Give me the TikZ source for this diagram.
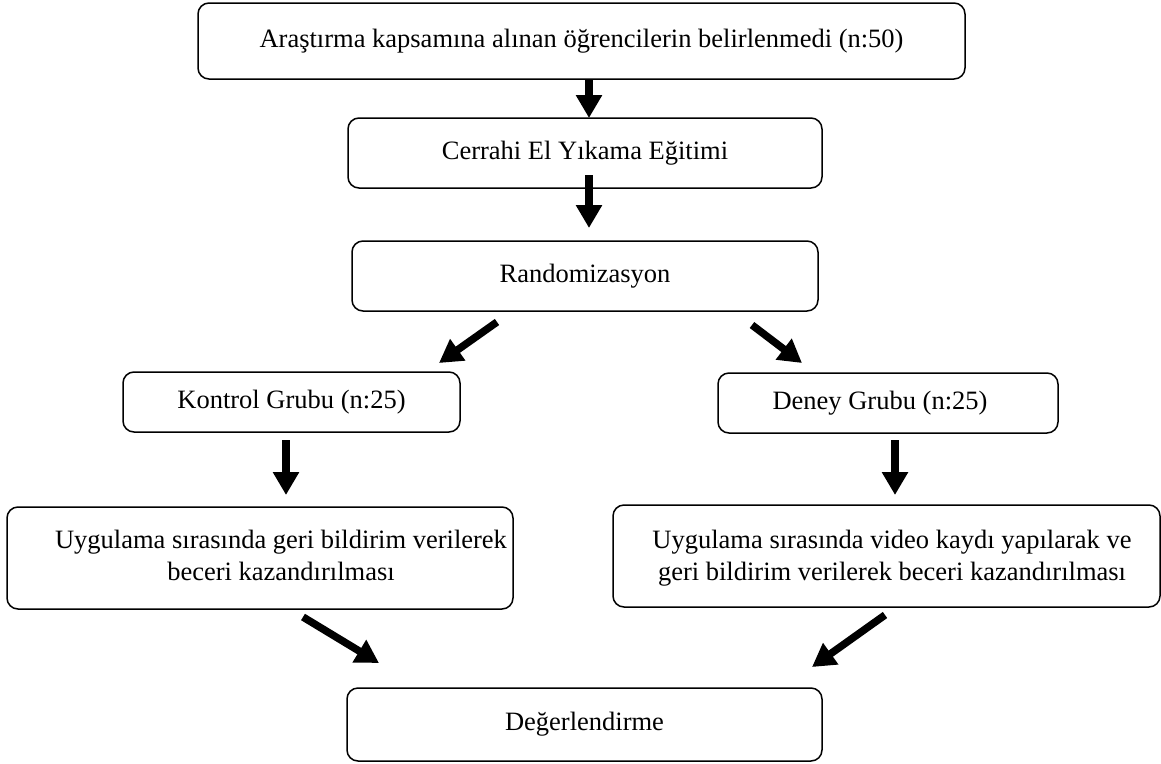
\documentclass[tikz,border=0pt]{standalone}
\usepackage{fontspec}
\setmainfont{Liberation Serif}
\usetikzlibrary{arrows.meta}
\tikzset{
  box/.style={draw, line width=1.5pt, rounded corners=11pt, inner sep=0pt, align=center,
    font=\fontsize{26.5}{32}\selectfont},
  txt/.style={inner sep=0pt, align=center, font=\fontsize{26.5}{32}\selectfont},
  bigarrow/.style={line width=7.5pt, -{Triangle[width=25pt,length=23pt]}}
}
\begin{document}
\begin{tikzpicture}[x=1pt,y=-1pt]
\useasboundingbox (0,0) rectangle (1161,763);
\node[box, minimum width=767pt, minimum height=76pt] (n1) at (581.5,41) {Araştırma kapsamına alınan öğrencilerin belirlenmedi (n:50)};
\node[box, minimum width=474pt, minimum height=70pt] (n2) at (585,153) {Cerrahi El Yıkama Eğitimi};
\node[box, minimum width=466pt, minimum height=70pt] (n3) at (585,276) {Randomizasyon};
\node[box, minimum width=337pt, minimum height=60pt] (n4) at (291.5,402) {Kontrol Grubu (n:25)};
\node[box, minimum width=340pt, minimum height=60pt] (n5) at (888,403) {};
\node[txt] (n5t) at (880,403) {Deney Grubu (n:25)};
\node[box, minimum width=506pt, minimum height=102pt] (n6) at (260,558) {};
\node[txt] (n6t) at (281,555) {Uygulama sırasında geri bildirim verilerek\\beceri kazandırılması};
\node[box, minimum width=547pt, minimum height=102pt] (n7) at (886.5,556) {};
\node[txt] (n7t) at (892,558) {Uygulama sırasında video kaydı yapılarak ve\\geri bildirim verilerek beceri kazandırılması};
\node[box, minimum width=475pt, minimum height=73pt] (n8) at (584.5,724.5) {Değerlendirme};

\coordinate (a1s) at (589,80);  \coordinate (a1e) at (589,118);
\coordinate (a2s) at (589,175); \coordinate (a2e) at (589,228);
\coordinate (a3s) at (497,322); \coordinate (a3e) at (439,363);
\coordinate (a4s) at (752,325); \coordinate (a4e) at (802,363);
\coordinate (a5s) at (286,440); \coordinate (a5e) at (286,495);
\coordinate (a6s) at (895,440); \coordinate (a6e) at (895,495);
\coordinate (a7s) at (303,617); \coordinate (a7e) at (379,663);
\coordinate (a8s) at (885,615); \coordinate (a8e) at (812,667);
\foreach \i in {1,...,8} { \draw[bigarrow] (a\i s) -- (a\i e); }
\end{tikzpicture}
\end{document}
